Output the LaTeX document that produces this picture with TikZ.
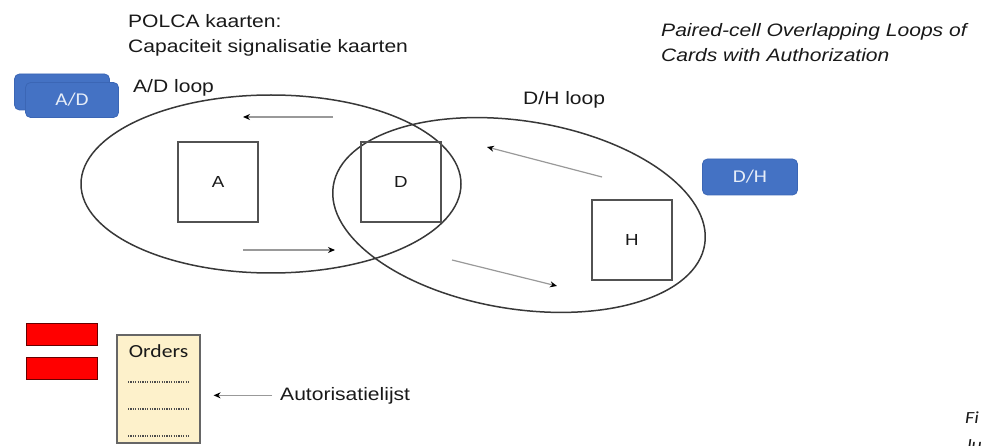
\documentclass[tikz,border=0pt]{standalone}
\usepackage{fontspec}
\setmainfont{Liberation Sans}[FakeStretch=1.17]
\newfontfamily\cardfont{Carlito}[FakeStretch=1.17]
\usetikzlibrary{arrows.meta}
\definecolor{cardblue}{HTML}{4472C4}
\definecolor{cardedge}{HTML}{3B66B5}
\definecolor{cardtext}{HTML}{E6EDF8}
\definecolor{paper}{HTML}{FDF1CB}
\definecolor{alarm}{HTML}{FF0000}
\begin{document}
\begin{tikzpicture}[x=1pt,y=-1pt,
  every node/.style={inner sep=0pt, font=\fontsize{18}{25}\selectfont, text=black!90},
  loopline/.style={draw=black!78, line width=1.5pt},
  station/.style={draw=black!68, line width=1.6pt, minimum size=80pt, font=\fontsize{16}{18}\selectfont},
  flow/.style={draw=black!40, line width=1.2pt, -{Stealth[black, length=7pt, width=6pt]}},
  card/.style={fill=cardblue, draw=cardedge, line width=0.8pt, rounded corners=5pt,
    text=cardtext, font=\cardfont\fontsize{18}{20}\selectfont},
  redbar/.style={fill=alarm, draw=black!60!red, line width=0.8pt},
  label/.style={anchor=base west}]
\useasboundingbox (0,0) rectangle (982,446);
\clip (0,0) rectangle (982,446);

% headings
\node[label] (polca1) at (128,28) {POLCA kaarten:};
\node[label] (polca2) at (128,53) {Capaciteit signalisatie kaarten};
\node[label, font=\itshape\fontsize{18}{25}\selectfont] (title1) at (661,37) {Paired-cell Overlapping Loops of};
\node[label, font=\itshape\fontsize{18}{25}\selectfont] (title2) at (661,62) {Cards with Authorization};

% the two loops
\draw[loopline] (271,184) ellipse [x radius=190, y radius=89];
\draw[loopline, rotate around={-9:(519,215)}] (519,215) ellipse [x radius=188, y radius=94];
\node[label] (adloop) at (133,93) {A/D loop};
\node[label] (dhloop) at (523,105) {D/H loop};

% workstations
\node[station] (A) at (218,182) {A};
\node[station] (D) at (401,182) {D};
\node[station] (H) at (632,240) {H};

% POLCA cards
\node[card, minimum width=95pt, minimum height=36pt] (adback) at (62,92) {};
\node[card, minimum width=93pt, minimum height=35pt] (adcard) at (72,100) {A/D};
\node[card, minimum width=95pt, minimum height=36pt] (dhcard) at (750,177) {D/H};

% card flow inside the loops
\coordinate (adtopS) at (333,117);  \coordinate (adtopE) at (243,117);
\coordinate (adbotS) at (243,250);  \coordinate (adbotE) at (335,250);
\coordinate (dhtopS) at (602,177);  \coordinate (dhtopE) at (487,147);
\coordinate (dhbotS) at (452,260);  \coordinate (dhbotE) at (557,286);
\draw[flow] (adtopS) -- (adtopE);
\draw[flow] (adbotS) -- (adbotE);
\draw[flow] (dhtopS) -- (dhtopE);
\draw[flow] (dhbotS) -- (dhbotE);

% signal bars
\node[redbar, minimum width=71pt, minimum height=22pt] (bar1) at (61.5,334) {};
\node[redbar, minimum width=71pt, minimum height=22pt] (bar2) at (61.5,368) {};

% authorisation list
\node[fill=paper, draw=black!60, line width=1.2pt, minimum width=83pt, minimum height=108pt] (orders) at (158.5,389) {};
\node[anchor=base, font=\cardfont\fontsize{18.5}{22}\selectfont] (ordtitle) at (158.5,357) {Orders};
\foreach \yy in {382,409,436}
  \draw[black!70, line width=1.2pt, dash pattern=on 1.2pt off 1.2pt] (128,\yy) -- (190,\yy);
\node[label] (auth) at (280,400) {Autorisatielijst};
\draw[flow] ([xshift=-8pt]auth.west) -- ([xshift=13pt]orders.east |- auth.west);

% caption
\node[label, font=\cardfont\itshape\fontsize{17}{19}\selectfont] (cap1) at (965,423) {Fi};
\node[label, font=\cardfont\itshape\fontsize{17}{19}\selectfont] (cap2) at (965,450) {Ju};
\end{tikzpicture}
\end{document}
